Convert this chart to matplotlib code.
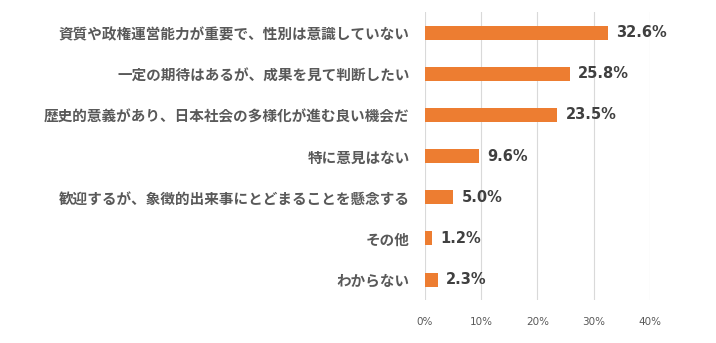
import matplotlib.pyplot as plt

plt.rcParams["font.family"] = ["Noto Sans CJK JP", "DejaVu Sans"]

categories = [
    "資質や政権運営能力が重要で、性別は意識していない",
    "一定の期待はあるが、成果を見て判断したい",
    "歴史的意義があり、日本社会の多様化が進む良い機会だ",
    "特に意見はない",
    "歓迎するが、象徴的出来事にとどまることを懸念する",
    "その他",
    "わからない",
]
values = [32.6, 25.8, 23.5, 9.6, 5.0, 1.2, 2.3]
ticks = [0, 10, 20, 30, 40]

fig = plt.figure(figsize=(7.16, 3.43), dpi=100)
ax = fig.add_axes([0.5936, 0.125, 0.3138, 0.840])

y = list(range(len(categories)))
ax.barh(y, values, height=0.34, color="#ED7D31", zorder=3)

# value labels next to each bar
for yi, v in zip(y, values):
    ax.text(v + 1.5, yi, f"{v:.1f}%", va="center", ha="left",
            fontsize=10.5, fontweight="bold", color="#404040",
            family="DejaVu Sans")

ax.set_xlim(0, 40)
ax.set_ylim(len(categories) - 0.5, -0.5)
ax.set_xticks(ticks)
ax.set_xticklabels([f"{t}%" for t in ticks], fontsize=7.5, color="#595959",
                   family="DejaVu Sans")
ax.set_yticks(y)
ax.set_yticklabels(categories, fontsize=10.5, fontweight="bold", color="#595959")
ax.tick_params(axis="both", length=0)
ax.tick_params(axis="x", pad=12)
ax.tick_params(axis="y", pad=11)

ax.grid(axis="x", color="#D9D9D9", linewidth=0.8, zorder=0)
for s in ax.spines.values():
    s.set_visible(False)

fig.savefig("out.png", dpi=100)
